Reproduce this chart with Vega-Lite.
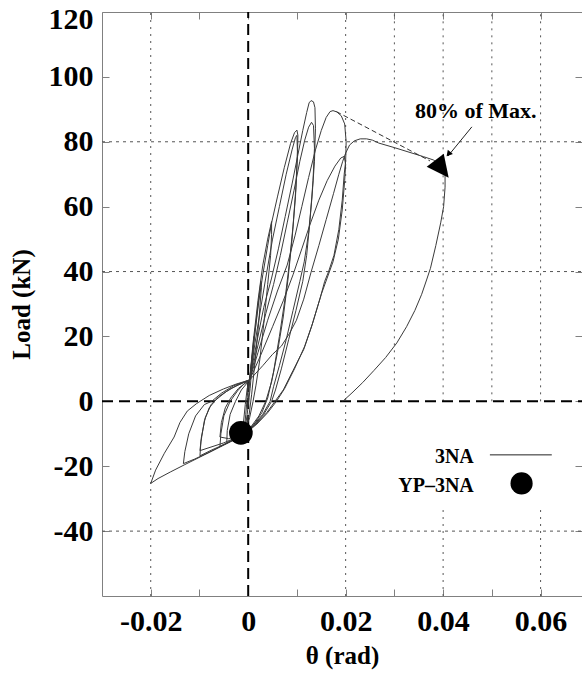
{
  "$schema": "https://vega.github.io/schema/vega-lite/v6.json",
  "width": 480,
  "height": 584,
  "autosize": {"type": "none"},
  "padding": {"left": 102, "top": 12, "right": 0, "bottom": 88},
  "background": "white",
  "config": {
    "view": {"stroke": null},
    "axis": {
      "grid": false,
      "domainColor": "#808080",
      "tickColor": "#808080",
      "tickSize": -7,
      "labelFont": "'Liberation Serif', 'Times New Roman', Times, serif",
      "labelFontWeight": "bold",
      "labelFontSize": 30,
      "labelColor": "black",
      "titleFont": "'Liberation Serif', 'Times New Roman', Times, serif",
      "titleFontWeight": "bold",
      "titleFontSize": 25,
      "titleColor": "black",
      "labelOverlap": false,
      "labelFlush": false
    }
  },
  "datasets": {
    "gridH": [
      {"x": -0.03, "x2": 0.0685, "y": 80},
      {"x": -0.03, "x2": 0.0685, "y": 40},
      {"x": -0.03, "x2": 0.0685, "y": -40}
    ],
    "gridV": [
      {"x": -0.02, "y": -60, "y2": 120},
      {"x": 0.02, "y": -60, "y2": 120},
      {"x": 0.03, "y": 0, "y2": 120},
      {"x": 0.04, "y": 0, "y2": 120},
      {"x": 0.04, "y": -60, "y2": -33.5},
      {"x": 0.05, "y": 0, "y2": 120},
      {"x": 0.06, "y": 0, "y2": 120},
      {"x": 0.06, "y": -60, "y2": -33.5}
    ],
    "zero": [
      {"x": 0, "x2": 0, "y": -60, "y2": 120},
      {"x": -0.03, "x2": 0.0685, "y": 0, "y2": 0}
    ],
    "curve": [
      {"x":0,"y":0},{"x":0.0004,"y":8},{"x":0.001,"y":17},{"x":0.0012,"y":20},{"x":0.0009,"y":13},{"x":0.0004,"y":4},{"x":-0.0002,"y":-4},{"x":-0.0006,"y":-8},{"x":-0.0008,"y":-9.2},{"x":-0.0005,"y":-4},{"x":-0.0001,"y":3},{"x":0.0003,"y":6.6},
      {"x":0.001,"y":16},{"x":0.0018,"y":27},{"x":0.0026,"y":37},{"x":0.0027,"y":35},{"x":0.0022,"y":25},{"x":0.0014,"y":12},{"x":0.0007,"y":2},{"x":0.0002,"y":-4},{"x":-0.0006,"y":-8.5},{"x":-0.0012,"y":-10.4},{"x":-0.001,"y":-7},{"x":-0.0006,"y":-1},{"x":-0.0002,"y":4},{"x":0.0003,"y":6.6},
      {"x":0.001,"y":18},{"x":0.002,"y":31},{"x":0.003,"y":42},{"x":0.004,"y":50},{"x":0.0046,"y":54},{"x":0.0048,"y":55.4},{"x":0.0048,"y":51.5},{"x":0.0046,"y":45},{"x":0.004,"y":36},{"x":0.0032,"y":24},{"x":0.0024,"y":13},{"x":0.0016,"y":5},{"x":0.001,"y":0},{"x":0.0003,"y":-5},{"x":-0.0008,"y":-9.5},{"x":-0.0025,"y":-11.4},{"x":-0.0044,"y":-12.8},{"x":-0.0043,"y":-9},{"x":-0.0037,"y":-4},{"x":-0.0026,"y":0},{"x":-0.0014,"y":3.5},{"x":0.0003,"y":6.6},
      {"x":0.0012,"y":19},{"x":0.0022,"y":31},{"x":0.003,"y":39},{"x":0.004,"y":48},{"x":0.0048,"y":55},{"x":0.006,"y":63},{"x":0.0074,"y":72},{"x":0.0087,"y":79.5},{"x":0.0095,"y":82.8},{"x":0.01,"y":83.6},{"x":0.0102,"y":82},{"x":0.0101,"y":75},{"x":0.0097,"y":63},{"x":0.009,"y":50},{"x":0.0082,"y":38},{"x":0.0072,"y":26},{"x":0.006,"y":15},{"x":0.0048,"y":6},{"x":0.0036,"y":0},{"x":0.0022,"y":-4.5},{"x":0.0005,"y":-8},{"x":-0.0015,"y":-10.5},{"x":-0.0035,"y":-12.2},{"x":-0.0058,"y":-13.9},{"x":-0.0056,"y":-10},{"x":-0.005,"y":-4.5},{"x":-0.0037,"y":0},{"x":-0.0022,"y":3.2},{"x":-0.0008,"y":5.5},{"x":0.0003,"y":6.6},
      {"x":0.0014,"y":18},{"x":0.0026,"y":29},{"x":0.0036,"y":38},{"x":0.005,"y":50},{"x":0.0064,"y":60},{"x":0.0078,"y":70},{"x":0.009,"y":77.5},{"x":0.0097,"y":81.3},{"x":0.01,"y":82},{"x":0.0101,"y":77},{"x":0.0098,"y":66},{"x":0.0092,"y":54},{"x":0.0084,"y":42},{"x":0.0076,"y":32},{"x":0.0064,"y":20},{"x":0.0052,"y":9},{"x":0.004,"y":1},{"x":0.0028,"y":-3.5},{"x":0.001,"y":-7.5},{"x":-0.0015,"y":-10.3},{"x":-0.004,"y":-11.5},{"x":-0.0058,"y":-11},{"x":-0.0055,"y":-6.5},{"x":-0.0047,"y":-2},{"x":-0.0036,"y":1},{"x":-0.002,"y":4},{"x":0.0003,"y":6.6},
      {"x":0.0016,"y":17},{"x":0.0032,"y":29},{"x":0.0048,"y":38},{"x":0.0062,"y":47},{"x":0.0076,"y":57},{"x":0.009,"y":67},{"x":0.0102,"y":76},{"x":0.0112,"y":83.5},{"x":0.012,"y":89},{"x":0.0125,"y":92},{"x":0.0129,"y":92.7},{"x":0.0134,"y":92.3},{"x":0.0137,"y":90.5},{"x":0.0138,"y":84},{"x":0.0136,"y":74},{"x":0.0131,"y":63},{"x":0.0124,"y":52},{"x":0.0115,"y":43},{"x":0.0106,"y":37},{"x":0.0092,"y":28},{"x":0.0078,"y":19},{"x":0.0064,"y":11},{"x":0.0052,"y":4.5},{"x":0.0045,"y":0},{"x":0.003,"y":-4},{"x":0.001,"y":-7.5},{"x":-0.0015,"y":-10.6},{"x":-0.0045,"y":-13},{"x":-0.0075,"y":-15},{"x":-0.0099,"y":-16.8},{"x":-0.0097,"y":-12.5},{"x":-0.009,"y":-6},{"x":-0.008,"y":-2},{"x":-0.0066,"y":0.5},{"x":-0.0045,"y":3},{"x":-0.0022,"y":5},{"x":0.0003,"y":6.6},
      {"x":0.0018,"y":16},{"x":0.0036,"y":27},{"x":0.0052,"y":36},{"x":0.0066,"y":45},{"x":0.008,"y":55},{"x":0.0094,"y":65},{"x":0.0106,"y":74},{"x":0.0116,"y":80.5},{"x":0.0124,"y":84.5},{"x":0.013,"y":86},{"x":0.0134,"y":85},{"x":0.0136,"y":78},{"x":0.0133,"y":68},{"x":0.0127,"y":56},{"x":0.012,"y":45},{"x":0.0112,"y":37},{"x":0.0098,"y":28},{"x":0.0083,"y":19},{"x":0.0068,"y":10},{"x":0.0056,"y":3.5},{"x":0.0048,"y":0},{"x":0.0032,"y":-4},{"x":0.0012,"y":-7.5},{"x":-0.0015,"y":-10.5},{"x":-0.005,"y":-12.8},{"x":-0.0099,"y":-15.2},{"x":-0.0096,"y":-11},{"x":-0.0088,"y":-5},{"x":-0.0076,"y":-1},{"x":-0.006,"y":1.5},{"x":-0.0035,"y":4},{"x":0.0003,"y":6.6},
      {"x":0.002,"y":15},{"x":0.004,"y":25},{"x":0.006,"y":34},{"x":0.008,"y":42},{"x":0.0096,"y":51},{"x":0.011,"y":60},{"x":0.0124,"y":69},{"x":0.0138,"y":77.5},{"x":0.015,"y":83.5},{"x":0.016,"y":87.5},{"x":0.0168,"y":89.3},{"x":0.0174,"y":89.6},{"x":0.0182,"y":89.2},{"x":0.0191,"y":88},{"x":0.0198,"y":85.5},{"x":0.0201,"y":80},{"x":0.02,"y":74},{"x":0.0197,"y":70},{"x":0.0193,"y":62},{"x":0.0186,"y":53},{"x":0.0176,"y":45},{"x":0.0165,"y":40},{"x":0.0157,"y":37},{"x":0.0148,"y":32},{"x":0.013,"y":23},{"x":0.0114,"y":16},{"x":0.0092,"y":9.5},{"x":0.0072,"y":3.5},{"x":0.0055,"y":0},{"x":0.0038,"y":-3.5},{"x":0.0016,"y":-7},{"x":-0.001,"y":-10.3},{"x":-0.0045,"y":-13},{"x":-0.008,"y":-15.7},{"x":-0.011,"y":-17.8},{"x":-0.0133,"y":-19.2},{"x":-0.013,"y":-15.5},{"x":-0.0122,"y":-10},{"x":-0.0108,"y":-4.5},{"x":-0.009,"y":-1},{"x":-0.0075,"y":0},{"x":-0.0055,"y":2.5},{"x":-0.003,"y":4.8},{"x":0.0003,"y":6.6},
      {"x":0.0025,"y":14},{"x":0.005,"y":23},{"x":0.0072,"y":31},{"x":0.0092,"y":39},{"x":0.011,"y":47},{"x":0.0128,"y":55},{"x":0.0145,"y":62},{"x":0.0162,"y":68},{"x":0.0178,"y":72.5},{"x":0.019,"y":75},{"x":0.0197,"y":75.5},{"x":0.02,"y":73},{"x":0.0198,"y":68},{"x":0.0193,"y":59},{"x":0.0185,"y":50},{"x":0.0174,"y":43},{"x":0.0162,"y":38},{"x":0.015,"y":33},{"x":0.0132,"y":24},{"x":0.0116,"y":17},{"x":0.0095,"y":10},{"x":0.0075,"y":4},{"x":0.0058,"y":0},{"x":0.004,"y":-3.5},{"x":0.0018,"y":-7},{"x":-0.001,"y":-10.5},{"x":-0.005,"y":-13.5},{"x":-0.009,"y":-16.5},{"x":-0.013,"y":-19.5},{"x":-0.016,"y":-21.8},{"x":-0.0185,"y":-23.8},{"x":-0.02,"y":-25.3},{"x":-0.019,"y":-21.2},{"x":-0.0172,"y":-16},{"x":-0.0152,"y":-11},{"x":-0.014,"y":-6.5},{"x":-0.0125,"y":-3},{"x":-0.0106,"y":-0.7},{"x":-0.008,"y":1.8},{"x":-0.0051,"y":3.8},{"x":-0.0025,"y":5.3},{"x":0.0003,"y":6.6},
      {"x":0.003,"y":11},{"x":0.005,"y":14.5},{"x":0.0068,"y":17},{"x":0.0085,"y":21},{"x":0.0099,"y":25},{"x":0.0114,"y":31.5},{"x":0.0129,"y":39.8},{"x":0.0145,"y":48},{"x":0.016,"y":56},{"x":0.0175,"y":64},{"x":0.0186,"y":70},{"x":0.0194,"y":74},{"x":0.02,"y":76.5},{"x":0.0208,"y":79},{"x":0.0218,"y":80.3},{"x":0.023,"y":80.9},{"x":0.0243,"y":80.9},{"x":0.0255,"y":80.5},{"x":0.0268,"y":79.6},{"x":0.03,"y":78.2},{"x":0.033,"y":76.8},{"x":0.036,"y":75.4},{"x":0.038,"y":74.4},{"x":0.0393,"y":73},{"x":0.04,"y":71.5},{"x":0.0404,"y":70},{"x":0.0404,"y":66},{"x":0.0401,"y":60},{"x":0.0395,"y":55},{"x":0.0385,"y":48},{"x":0.0374,"y":41},{"x":0.0366,"y":37.4},{"x":0.0356,"y":33},{"x":0.0342,"y":28},{"x":0.0325,"y":23},{"x":0.0305,"y":18},{"x":0.0282,"y":13.5},{"x":0.0258,"y":9.5},{"x":0.0235,"y":5.8},{"x":0.0213,"y":2.6},{"x":0.0194,"y":0}
    ],
    "maxLine": [{"x": 0.0181, "y": 89.3, "x2": 0.0373, "y2": 74.1}],
    "pointer": [{"x": 0.0459, "y": 84.6, "x2": 0.041, "y2": 75.6}],
    "pointerHead": [{"x": 0.0411, "y": 76.2}],
    "bigHead": [{"x": 0.0393, "y": 72.6}],
    "note": [{"x": 0.0467, "y": 87.3, "label": "80% of Max."}],
    "yp": [{"x": -0.0015, "y": -9.7, "series": "YP–3NA"}],
    "legendText": [
      {"x": 0.0463, "y": -19.0, "label": "3NA"},
      {"x": 0.0463, "y": -27.85, "label": "YP–3NA"}
    ],
    "legendLine": [{"x": 0.0496, "x2": 0.0623, "y": -16.5}],
    "legendDot": [{"x": 0.0561, "y": -25.3}]
  },
  "resolve": {"axis": {"x": "independent", "y": "independent"}},
  "layer": [
    {
      "data": {"name": "gridH"},
      "mark": {"type": "rule", "stroke": "#555", "strokeWidth": 1, "strokeDash": [3, 4]},
      "encoding": {
        "x": {"field": "x", "type": "quantitative", "scale": {"domain": [-0.03, 0.0685], "nice": false, "zero": false},
          "axis": {"orient": "bottom", "values": [-0.02, -0.01, 0, 0.01, 0.02, 0.03, 0.04, 0.05, 0.06], "format": ".2~f",
            "labelExpr": "abs(round(datum.value*100)) % 2 == 1 ? '' : replace(datum.label, '−', '-')",
            "labelPadding": 17, "title": "θ (rad)", "titlePadding": 7}},
        "x2": {"field": "x2"},
        "y": {"field": "y", "type": "quantitative", "scale": {"domain": [-60, 120], "nice": false, "zero": false},
          "axis": {"orient": "left", "values": [-40, -20, 0, 20, 40, 60, 80, 100, 120],
            "labelExpr": "replace(datum.label, '−', '-')",
            "labelFlush": true, "labelFlushOffset": 8,
            "labelPadding": 16, "title": "Load (kN)", "titlePadding": 14}}
      }
    },
    {
      "data": {"name": "gridV"},
      "mark": {"type": "rule", "stroke": "#555", "strokeWidth": 1, "strokeDash": [2, 5]},
      "encoding": {
        "x": {"field": "x", "type": "quantitative", "scale": {"domain": [-0.03, 0.0685], "nice": false, "zero": false},
          "axis": {"orient": "top", "values": [-0.02, -0.01, 0, 0.01, 0.02, 0.03, 0.04, 0.05, 0.06], "labels": false, "title": null}},
        "y": {"field": "y", "type": "quantitative", "scale": {"domain": [-60, 120], "nice": false, "zero": false},
          "axis": {"orient": "right", "values": [-40, -20, 0, 20, 40, 60, 80, 100, 120], "labels": false, "title": null}},
        "y2": {"field": "y2"}
      }
    },
    {
      "data": {"name": "zero"},
      "mark": {"type": "rule", "stroke": "black", "strokeWidth": 2, "strokeDash": [11, 6]},
      "encoding": {
        "x": {"field": "x", "type": "quantitative", "scale": {"domain": [-0.03, 0.0685], "nice": false, "zero": false}, "axis": null},
        "x2": {"field": "x2"},
        "y": {"field": "y", "type": "quantitative", "scale": {"domain": [-60, 120], "nice": false, "zero": false}, "axis": null},
        "y2": {"field": "y2"}
      }
    },
    {
      "data": {"name": "curve"},
      "mark": {"type": "line", "stroke": "#3a3a3a", "strokeWidth": 1},
      "encoding": {
        "x": {"field": "x", "type": "quantitative", "scale": {"domain": [-0.03, 0.0685], "nice": false, "zero": false}, "axis": null},
        "y": {"field": "y", "type": "quantitative", "scale": {"domain": [-60, 120], "nice": false, "zero": false}, "axis": null},
        "order": {"value": null}
      }
    },
    {
      "data": {"name": "maxLine"},
      "mark": {"type": "rule", "stroke": "#333", "strokeWidth": 1, "strokeDash": [5, 3]},
      "encoding": {
        "x": {"field": "x", "type": "quantitative", "scale": {"domain": [-0.03, 0.0685], "nice": false, "zero": false}, "axis": null},
        "x2": {"field": "x2"},
        "y": {"field": "y", "type": "quantitative", "scale": {"domain": [-60, 120], "nice": false, "zero": false}, "axis": null},
        "y2": {"field": "y2"}
      }
    },
    {
      "data": {"name": "pointer"},
      "mark": {"type": "rule", "stroke": "#222", "strokeWidth": 1},
      "encoding": {
        "x": {"field": "x", "type": "quantitative", "scale": {"domain": [-0.03, 0.0685], "nice": false, "zero": false}, "axis": null},
        "x2": {"field": "x2"},
        "y": {"field": "y", "type": "quantitative", "scale": {"domain": [-60, 120], "nice": false, "zero": false}, "axis": null},
        "y2": {"field": "y2"}
      }
    },
    {
      "data": {"name": "pointerHead"},
      "mark": {"type": "point", "shape": "triangle-up", "angle": 220, "size": 45, "filled": true, "fill": "black", "opacity": 1},
      "encoding": {
        "x": {"field": "x", "type": "quantitative", "scale": {"domain": [-0.03, 0.0685], "nice": false, "zero": false}, "axis": null},
        "y": {"field": "y", "type": "quantitative", "scale": {"domain": [-60, 120], "nice": false, "zero": false}, "axis": null}
      }
    },
    {
      "data": {"name": "bigHead"},
      "mark": {"type": "point", "shape": "M -1 0.08 L 0.31 -0.92 L 0.69 0.92 Z", "size": 676, "filled": true, "fill": "black", "opacity": 1},
      "encoding": {
        "x": {"field": "x", "type": "quantitative", "scale": {"domain": [-0.03, 0.0685], "nice": false, "zero": false}, "axis": null},
        "y": {"field": "y", "type": "quantitative", "scale": {"domain": [-60, 120], "nice": false, "zero": false}, "axis": null}
      }
    },
    {
      "data": {"name": "yp"},
      "mark": {"type": "point", "shape": "circle", "size": 560, "filled": true, "fill": "black", "opacity": 1},
      "encoding": {
        "x": {"field": "x", "type": "quantitative", "scale": {"domain": [-0.03, 0.0685], "nice": false, "zero": false}, "axis": null},
        "y": {"field": "y", "type": "quantitative", "scale": {"domain": [-60, 120], "nice": false, "zero": false}, "axis": null}
      }
    },
    {
      "data": {"name": "note"},
      "mark": {"type": "text", "font": "'Liberation Serif', 'Times New Roman', Times, serif", "fontWeight": "bold", "fontSize": 22, "align": "center", "baseline": "alphabetic", "color": "black"},
      "encoding": {
        "x": {"field": "x", "type": "quantitative", "scale": {"domain": [-0.03, 0.0685], "nice": false, "zero": false}, "axis": null},
        "y": {"field": "y", "type": "quantitative", "scale": {"domain": [-60, 120], "nice": false, "zero": false}, "axis": null},
        "text": {"field": "label"}
      }
    },
    {
      "data": {"name": "legendText"},
      "mark": {"type": "text", "font": "'Liberation Serif', 'Times New Roman', Times, serif", "fontWeight": "bold", "fontSize": 20, "align": "right", "baseline": "alphabetic", "color": "black"},
      "encoding": {
        "x": {"field": "x", "type": "quantitative", "scale": {"domain": [-0.03, 0.0685], "nice": false, "zero": false}, "axis": null},
        "y": {"field": "y", "type": "quantitative", "scale": {"domain": [-60, 120], "nice": false, "zero": false}, "axis": null},
        "text": {"field": "label"}
      }
    },
    {
      "data": {"name": "legendLine"},
      "mark": {"type": "rule", "stroke": "#222", "strokeWidth": 1},
      "encoding": {
        "x": {"field": "x", "type": "quantitative", "scale": {"domain": [-0.03, 0.0685], "nice": false, "zero": false}, "axis": null},
        "x2": {"field": "x2"},
        "y": {"field": "y", "type": "quantitative", "scale": {"domain": [-60, 120], "nice": false, "zero": false}, "axis": null}
      }
    },
    {
      "data": {"name": "legendDot"},
      "mark": {"type": "point", "shape": "circle", "size": 490, "filled": true, "fill": "black", "opacity": 1},
      "encoding": {
        "x": {"field": "x", "type": "quantitative", "scale": {"domain": [-0.03, 0.0685], "nice": false, "zero": false}, "axis": null},
        "y": {"field": "y", "type": "quantitative", "scale": {"domain": [-60, 120], "nice": false, "zero": false}, "axis": null}
      }
    }
  ]
}
